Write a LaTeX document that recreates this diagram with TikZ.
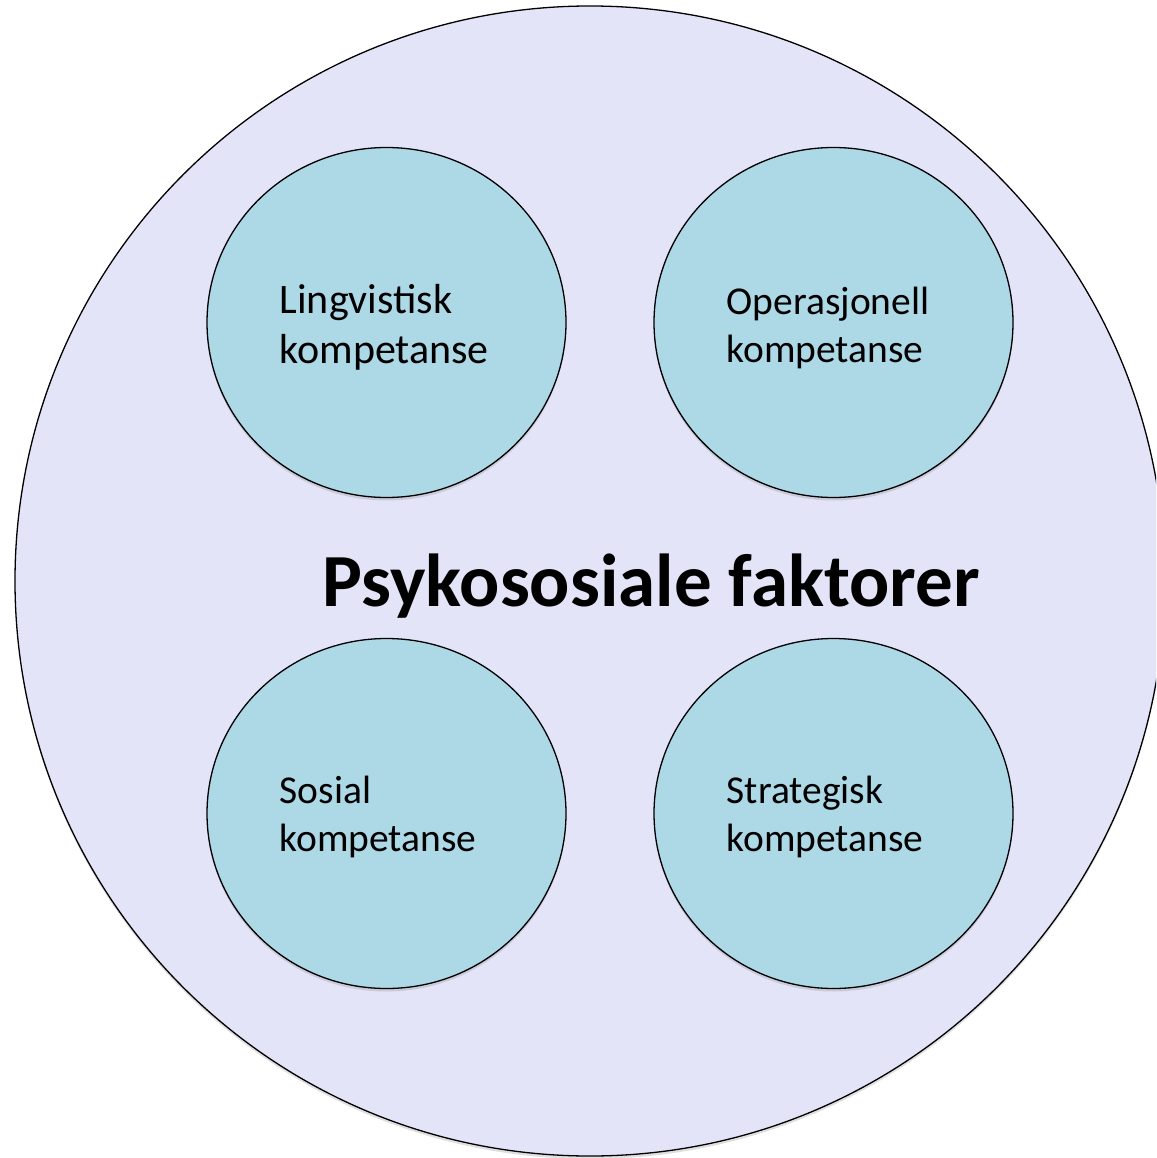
\documentclass[tikz,border=0pt]{standalone}
\usepackage{fontspec}
\setmainfont{Carlito}
\usetikzlibrary{shapes.geometric, shadows}
\definecolor{lavfill}{HTML}{E3E4F8}
\definecolor{compblue}{HTML}{ADD8E6}

\begin{document}
\begin{tikzpicture}[
   x = 1pt, y = -1pt,
   outer/.style = {circle, draw, fill=lavfill, line width=1.3pt,
                   minimum size=1150pt, inner sep=0pt,
                   drop shadow={opacity=0.25, shadow xshift=0pt, shadow yshift=-3pt}},
    comp/.style = {ellipse, draw, fill=compblue, line width=1.3pt,
                   minimum width=359pt, minimum height=350pt, inner sep=0pt,
                   drop shadow={opacity=0.25, shadow xshift=0pt, shadow yshift=-3pt}},
 comptxt/.style = {anchor=west, align=left, inner sep=0pt, xshift=-107pt, yshift=-5pt,
                   font=\fontsize{39.5}{48}\selectfont},
 compbig/.style = {comptxt, font=\fontsize{42}{50}\selectfont},
   title/.style = {font=\fontsize{75}{80}\selectfont\bfseries}
                    ]
  \useasboundingbox (0,0) rectangle (1156,1158);
  \clip (0,0) rectangle (1156,1158);
  \node (pf) [outer] at (590,581) {};
  % the four competences
  \node (ling)  [comp] at (386.5,322.5) {};
  \node (oper)  [comp] at (833.5,322.5) {};
  \node (sos)   [comp] at (386.5,813.5) {};
  \node (strat) [comp] at (833.5,813.5) {};
  \node (lingtxt)  [compbig] at (ling)  {Lingvistisk\\kompetanse};
  \node (opertxt)  [comptxt] at (oper)  {Operasjonell\\kompetanse};
  \node (sostxt)   [comptxt, yshift=2pt] at (sos)   {Sosial\\kompetanse};
  \node (strattxt) [comptxt, yshift=2pt] at (strat) {Strategisk\\kompetanse};
  \node (psy) [title, anchor=base] at (651,606) {Psykososiale faktorer};
\end{tikzpicture}
\end{document}
